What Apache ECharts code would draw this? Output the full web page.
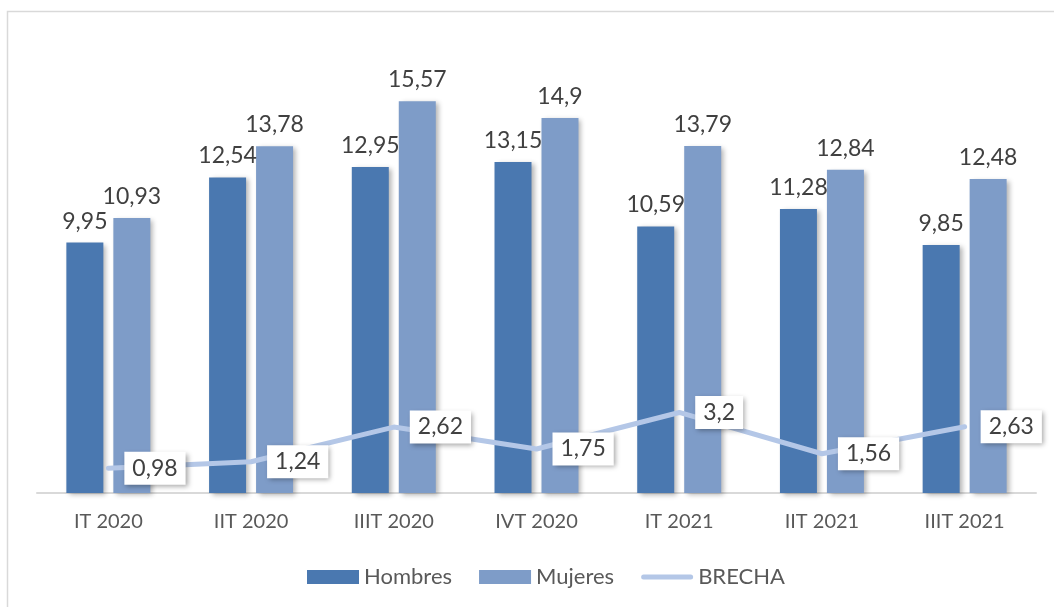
<!DOCTYPE html>
<html>
<head>
<meta charset="utf-8">
<script src="https://cdn.jsdelivr.net/npm/echarts@6/dist/echarts.min.js"></script>
<style>
  html, body { margin: 0; padding: 0; background: #fff; }
  #chart { width: 1054px; height: 607px; }
</style>
</head>
<body>
<div id="chart"></div>
<script>
// quarters
const categories = ["IT 2020", "IIT 2020", "IIIT 2020", "IVT 2020", "IT 2021", "IIT 2021", "IIIT 2021"];
const hombres = [9.95, 12.54, 12.95, 13.15, 10.59, 11.28, 9.85];
const mujeres = [10.93, 13.78, 15.57, 14.9, 13.79, 12.84, 12.48];
const brecha = [0.98, 1.24, 2.62, 1.75, 3.2, 1.56, 2.63];

const FONT = "Lato";
const comma = function (p) {
  return String(p.value).replace(".", ",");
};

let chart = echarts.init(document.getElementById("chart"));
chart.setOption({
  animation: false,
  textStyle: { fontFamily: FONT },
  graphic: [
    {
      type: "rect",
      shape: { x: 7.5, y: 11.5, width: 1200, height: 800 },
      style: { fill: "none", stroke: "#d9d9d9", lineWidth: 1.5 },
      silent: true
    }
  ],
  legend: {
    bottom: 14,
    left: 302,
    itemWidth: 52,
    itemHeight: 14,
    itemGap: 27,
    textStyle: { fontSize: 22, color: "#595959", fontFamily: FONT },
    data: [
      { name: "Hombres", icon: "rect" },
      { name: "Mujeres", icon: "rect" },
      {
        name: "BRECHA",
        icon: "path://M2.5,0 L49.5,0 A2.5,2.5 0 0 1 49.5,5 L2.5,5 A2.5,2.5 0 0 1 2.5,0 Z",
        itemStyle: { color: "#b4c7e7" }
      }
    ]
  },
  grid: {
    left: 37,
    right: 18,
    top: 40,
    bottom: 114
  },
  xAxis: {
    type: "category",
    data: categories,
    axisTick: { show: false },
    axisLine: { lineStyle: { color: "#d9d9d9", width: 2 } },
    axisLabel: {
      fontSize: 20,
      color: "#595959",
      margin: 19,
      fontFamily: FONT
    }
  },
  yAxis: {
    type: "value",
    min: 0,
    max: 18,
    show: false,
    splitLine: { show: false }
  },
  series: [
    {
      name: "Hombres",
      type: "bar",
      data: hombres,
      barWidth: 37,
      barGap: "27%",
      itemStyle: {
        color: "#4a78b0",
        shadowColor: "rgba(0,0,0,0.3)",
        shadowBlur: 5,
        shadowOffsetX: 3,
        shadowOffsetY: 2
      },
      label: {
        show: true,
        position: "top",
        distance: 10,
        fontSize: 23,
        color: "#404040",
        fontFamily: FONT,
        formatter: comma
      }
    },
    {
      name: "Mujeres",
      type: "bar",
      data: mujeres,
      barWidth: 37,
      itemStyle: {
        color: "#7e9cc8",
        shadowColor: "rgba(0,0,0,0.3)",
        shadowBlur: 5,
        shadowOffsetX: 3,
        shadowOffsetY: 2
      },
      label: {
        show: true,
        position: "top",
        distance: 10,
        fontSize: 23,
        color: "#404040",
        fontFamily: FONT,
        formatter: comma
      }
    },
    {
      name: "BRECHA",
      type: "line",
      data: brecha,
      symbol: "circle",
      symbolSize: 2,
      showSymbol: true,
      z: 5,
      lineStyle: { color: "#b4c7e7", width: 5, cap: "round" },
      itemStyle: { color: "#b4c7e7" },
      label: {
        show: true,
        position: "right",
        distance: 15,
        fontSize: 23,
        color: "#404040",
        fontFamily: FONT,
        backgroundColor: "#fff",
        padding: [6, 8, 4, 8],
        shadowColor: "rgba(0,0,0,0.35)",
        shadowBlur: 5,
        shadowOffsetX: 2,
        shadowOffsetY: 2,
        formatter: comma
      }
    }
  ]
});
window.addEventListener("resize", () => {
  chart.resize();
});
</script>
</body>
</html>
